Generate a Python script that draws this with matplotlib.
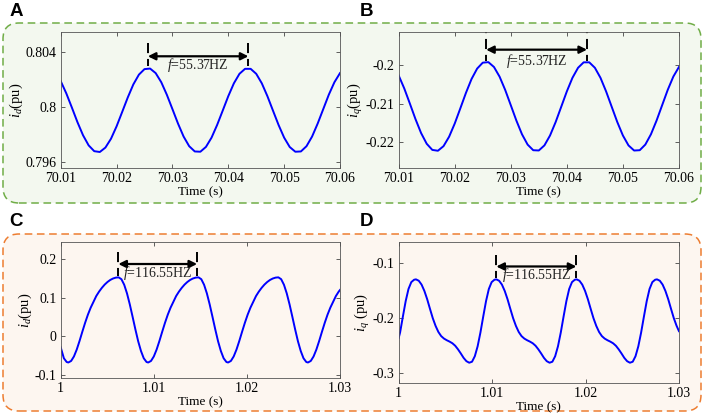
import matplotlib
matplotlib.use("Agg")
import matplotlib.pyplot as plt
from matplotlib.patches import FancyBboxPatch
from matplotlib.ticker import FuncFormatter

plt.rcParams["font.family"] = ["Liberation Serif", "DejaVu Serif"]
plt.rcParams["mathtext.fontset"] = "custom"
plt.rcParams["mathtext.rm"] = "Liberation Serif"
plt.rcParams["mathtext.it"] = "Liberation Serif:italic"
plt.rcParams["axes.unicode_minus"] = False

# --- panel A / B: steady state, 70.01 .. 70.06 s (1 ms steps)
t_ab = [70.010, 70.011, 70.012, 70.013, 70.014, 70.015, 70.016, 70.017, 70.018, 70.019,
        70.020, 70.021, 70.022, 70.023, 70.024, 70.025, 70.026, 70.027, 70.028, 70.029,
        70.030, 70.031, 70.032, 70.033, 70.034, 70.035, 70.036, 70.037, 70.038, 70.039,
        70.040, 70.041, 70.042, 70.043, 70.044, 70.045, 70.046, 70.047, 70.048, 70.049,
        70.050, 70.051, 70.052, 70.053, 70.054, 70.055, 70.056, 70.057, 70.058, 70.059,
        70.060]
id_a = [0.80189, 0.80100, 0.79997, 0.79891, 0.79796, 0.79723, 0.79681, 0.79675, 0.79707, 0.79771,
        0.79861, 0.79965, 0.80070, 0.80165, 0.80236, 0.80276, 0.80280, 0.80247, 0.80181, 0.80090,
        0.79986, 0.79881, 0.79787, 0.79717, 0.79679, 0.79677, 0.79712, 0.79779, 0.79871, 0.79975,
        0.80080, 0.80173, 0.80242, 0.80278, 0.80278, 0.80242, 0.80173, 0.80080, 0.79975, 0.79871,
        0.79779, 0.79711, 0.79677, 0.79679, 0.79717, 0.79787, 0.79881, 0.79986, 0.80091, 0.80181,
        0.80247]
iq_b = [-0.20264, -0.20604, -0.20999, -0.21403, -0.21767, -0.22046, -0.22206, -0.22228, -0.22108, -0.21861,
        -0.21518, -0.21121, -0.20718, -0.20356, -0.20084, -0.19930, -0.19916, -0.20043, -0.20295, -0.20641,
        -0.21040, -0.21442, -0.21799, -0.22067, -0.22214, -0.22221, -0.22088, -0.21830, -0.21480, -0.21080,
        -0.20679, -0.20325, -0.20063, -0.19921, -0.19921, -0.20063, -0.20325, -0.20679, -0.21080, -0.21480,
        -0.21830, -0.22089, -0.22222, -0.22214, -0.22067, -0.21799, -0.21442, -0.21040, -0.20639, -0.20292,
        -0.20042]

# --- panel C: 1 .. 1.03 s
t_c = [1.00000, 1.00034, 1.00064,
       1.00082, 1.00112, 1.00142, 1.00172, 1.00202, 1.00232, 1.00262, 1.00292, 1.00322, 1.00352,
       1.00382, 1.00412, 1.00442, 1.00472, 1.00502, 1.00532, 1.00562, 1.00592, 1.00622, 1.00652,
       1.00682, 1.00712, 1.00742, 1.00772, 1.00802, 1.00832, 1.00862, 1.00892, 1.00922,
       1.00940, 1.00970, 1.01000, 1.01030, 1.01060, 1.01090, 1.01120, 1.01150, 1.01180, 1.01210,
       1.01240, 1.01270, 1.01300, 1.01330, 1.01360, 1.01390, 1.01420, 1.01450, 1.01480, 1.01510,
       1.01540, 1.01570, 1.01600, 1.01630, 1.01660, 1.01690, 1.01720, 1.01750, 1.01780,
       1.01798, 1.01828, 1.01858, 1.01888, 1.01918, 1.01948, 1.01978, 1.02008, 1.02038, 1.02068,
       1.02098, 1.02128, 1.02158, 1.02188, 1.02218, 1.02248, 1.02278, 1.02308, 1.02338, 1.02368,
       1.02398, 1.02428, 1.02458, 1.02488, 1.02518, 1.02548, 1.02578, 1.02608, 1.02638,
       1.02656, 1.02686, 1.02716, 1.02746, 1.02776, 1.02806, 1.02836, 1.02866, 1.02896, 1.02926,
       1.02956, 1.02986, 1.03000]
id_c = [-0.0280, -0.0562, -0.0658,
        -0.0670, -0.0630, -0.0515, -0.0338, -0.0118, 0.0120, 0.0350, 0.0560, 0.0740, 0.0890,
        0.1040, 0.1153, 0.1250, 0.1333, 0.1400, 0.1453, 0.1490, 0.1513, 0.1520, 0.1472,
        0.1329, 0.1107, 0.0825, 0.0507, 0.0182, -0.0123, -0.0374, -0.0562, -0.0658,
        -0.0670, -0.0630, -0.0515, -0.0338, -0.0118, 0.0120, 0.0350, 0.0560, 0.0740, 0.0890,
        0.1040, 0.1153, 0.1250, 0.1333, 0.1400, 0.1453, 0.1490, 0.1513, 0.1520, 0.1472,
        0.1329, 0.1107, 0.0825, 0.0507, 0.0182, -0.0123, -0.0374, -0.0562, -0.0658,
        -0.0670, -0.0630, -0.0515, -0.0338, -0.0118, 0.0120, 0.0350, 0.0560, 0.0740, 0.0890,
        0.1040, 0.1153, 0.1250, 0.1333, 0.1400, 0.1453, 0.1490, 0.1513, 0.1520, 0.1472,
        0.1329, 0.1107, 0.0825, 0.0507, 0.0182, -0.0123, -0.0374, -0.0562, -0.0658,
        -0.0670, -0.0630, -0.0515, -0.0338, -0.0118, 0.0120, 0.0350, 0.0560, 0.0740, 0.0890,
        0.1040, 0.1153, 0.1195]

# --- panel D: 1 .. 1.03 s
t_d = [1.00000, 1.00015, 1.00045, 1.00075, 1.00105, 1.00135, 1.00165,
       1.00185, 1.00215, 1.00245, 1.00275, 1.00305, 1.00335, 1.00365, 1.00395, 1.00425, 1.00455,
       1.00485, 1.00515, 1.00545, 1.00575, 1.00605, 1.00635, 1.00665, 1.00695, 1.00725, 1.00755,
       1.00785, 1.00815, 1.00845, 1.00875, 1.00905, 1.00935, 1.00965, 1.00995, 1.01025,
       1.01045, 1.01075, 1.01105, 1.01135, 1.01165, 1.01195, 1.01225, 1.01255, 1.01285, 1.01315,
       1.01345, 1.01375, 1.01405, 1.01435, 1.01465, 1.01495, 1.01525, 1.01555, 1.01585, 1.01615,
       1.01645, 1.01675, 1.01705, 1.01735, 1.01765, 1.01795, 1.01825, 1.01855, 1.01885,
       1.01905, 1.01935, 1.01965, 1.01995, 1.02025, 1.02055, 1.02085, 1.02115, 1.02145, 1.02175,
       1.02205, 1.02235, 1.02265, 1.02295, 1.02325, 1.02355, 1.02385, 1.02415, 1.02445, 1.02475,
       1.02505, 1.02535, 1.02565, 1.02595, 1.02625, 1.02655, 1.02685, 1.02715, 1.02745,
       1.02765, 1.02795, 1.02825, 1.02855, 1.02885, 1.02915, 1.02945, 1.02975, 1.03000]
iq_d = [-0.2360, -0.2260, -0.1970, -0.1690, -0.1470, -0.1345, -0.1302,
        -0.1295, -0.1320, -0.1390, -0.1505, -0.1655, -0.1830, -0.2000, -0.2140, -0.2250, -0.2325,
        -0.2370, -0.2400, -0.2425, -0.2455, -0.2500, -0.2565, -0.2640, -0.2720, -0.2780, -0.2808,
        -0.2790, -0.2690, -0.2510, -0.2260, -0.1970, -0.1690, -0.1470, -0.1345, -0.1302,
        -0.1295, -0.1320, -0.1390, -0.1505, -0.1655, -0.1830, -0.2000, -0.2140, -0.2250, -0.2325,
        -0.2370, -0.2400, -0.2425, -0.2455, -0.2500, -0.2565, -0.2640, -0.2720, -0.2780, -0.2808,
        -0.2790, -0.2690, -0.2510, -0.2260, -0.1970, -0.1690, -0.1470, -0.1345, -0.1302,
        -0.1295, -0.1320, -0.1390, -0.1505, -0.1655, -0.1830, -0.2000, -0.2140, -0.2250, -0.2325,
        -0.2370, -0.2400, -0.2425, -0.2455, -0.2500, -0.2565, -0.2640, -0.2720, -0.2780, -0.2808,
        -0.2790, -0.2690, -0.2510, -0.2260, -0.1970, -0.1690, -0.1470, -0.1345, -0.1302,
        -0.1295, -0.1320, -0.1390, -0.1505, -0.1655, -0.1830, -0.2000, -0.2140, -0.2235]

# peaks used for the frequency markers
peaks_a = [70.0256, 70.0436]
peaks_c = [1.00619, 1.01465]
peaks_d = [1.01045, 1.01902]
freq_ab = "55.37HZ"
freq_cd = "116.55HZ"

ticks_ab_x = [70.01, 70.02, 70.03, 70.04, 70.05, 70.06]
ticks_cd_x = [1, 1.01, 1.02, 1.03]

fig = plt.figure(figsize=(7.06, 4.2), dpi=100)

# rounded dashed frames behind each row
frames = [
    (0.03, 2.17, 6.98, 1.80, "#f3f8ef", "#70ad47"),
    (0.03, 0.09, 6.98, 1.77, "#fdf6f0", "#ed7d31"),
]
for x0, y0, w, h, fc, ec in frames:
    fig.patches.append(FancyBboxPatch(
        (x0, y0), w, h, boxstyle="round,pad=0,rounding_size=0.16",
        transform=fig.dpi_scale_trans, facecolor=fc, edgecolor=ec,
        linewidth=1.1, linestyle=(0, (5, 3)), zorder=-10))

fmt = FuncFormatter(lambda v, p: "%g" % round(v, 4))


def setup(ax, xlim, ylim, xticks, yticks, ylabel):
    ax.set_facecolor("none")
    ax.set_xlim(*xlim)
    ax.set_ylim(*ylim)
    ax.set_xticks(xticks)
    ax.set_yticks(yticks)
    ax.xaxis.set_major_formatter(fmt)
    ax.yaxis.set_major_formatter(fmt)
    ax.tick_params(direction="in", top=True, right=True, length=3,
                   width=0.6, color="#444444", labelsize=10, pad=3)
    for s in ax.spines.values():
        s.set_color("#555555")
        s.set_linewidth(0.6)
    ax.set_xlabel("Time (s)", fontsize=9.5, labelpad=1)
    ax.set_ylabel(ylabel, fontsize=10.5, labelpad=0.5)


def marker(ax, peaks, y_arrow, y_lo, y_hi, y_text, label):
    for p in peaks:
        ax.plot([p, p], [y_hi, y_lo], color="k", lw=1.4, dashes=(5.2, 3.0))
    ax.annotate("", xy=(peaks[1], y_arrow), xytext=(peaks[0], y_arrow),
                arrowprops=dict(arrowstyle="<|-|>", color="k", lw=1.6,
                                mutation_scale=11, shrinkA=0, shrinkB=0))
    ax.text((peaks[0] + peaks[1]) / 2, y_text, r"$f$=" + label,
            ha="center", va="center", fontsize=10, color="#222222")


ax_a = fig.add_axes([0.0860, 0.600, 0.3956, 0.3238])
ax_a.plot(t_ab, id_a, color="#0000ff", lw=1.4)
setup(ax_a, (70.01, 70.06), (0.79559, 0.80545), ticks_ab_x,
      [0.796, 0.8, 0.804], r"$i_d$(pu)")
marker(ax_a, peaks_a, 0.80369, 0.80296, 0.80465, 0.80305, freq_ab)

ax_b = fig.add_axes([0.5647, 0.600, 0.3970, 0.3238])
ax_b.plot(t_ab, iq_b, color="#0000ff", lw=1.4)
setup(ax_b, (70.01, 70.06), (-0.22678, -0.1913), ticks_ab_x,
      [-0.22, -0.21, -0.2], r"$i_q$(pu)")
marker(ax_b, peaks_a, -0.19591, -0.19896, -0.1889, -0.19878, freq_ab)

ax_c = fig.add_axes([0.0860, 0.100, 0.3956, 0.3238])
ax_c.plot(t_c, id_c, color="#0000ff", lw=1.4)
setup(ax_c, (1.0, 1.03), (-0.1069, 0.2429), ticks_cd_x,
      [-0.1, 0, 0.1, 0.2], r"$i_d$(pu)")
marker(ax_c, peaks_c, 0.1863, 0.1548, 0.2163, 0.1632, freq_cd)

ax_d = fig.add_axes([0.5647, 0.0881, 0.3970, 0.3357])
ax_d.plot(t_d, iq_d, color="#0000ff", lw=1.4)
setup(ax_d, (1.0, 1.03), (-0.3176, -0.0617), ticks_cd_x,
      [-0.3, -0.2, -0.1], r"$i_q$ (pu)")
marker(ax_d, peaks_d, -0.1061, -0.1274, -0.0848, -0.1213, freq_cd)

for lab, x, y in [("A", 0.013, 0.992), ("B", 0.509, 0.992),
                  ("C", 0.013, 0.492), ("D", 0.509, 0.492)]:
    fig.text(x, y, lab, fontsize=13.5, fontweight="bold", va="top", ha="left",
             family=["Liberation Sans", "DejaVu Sans"])

fig.savefig("out.png", dpi=100)
